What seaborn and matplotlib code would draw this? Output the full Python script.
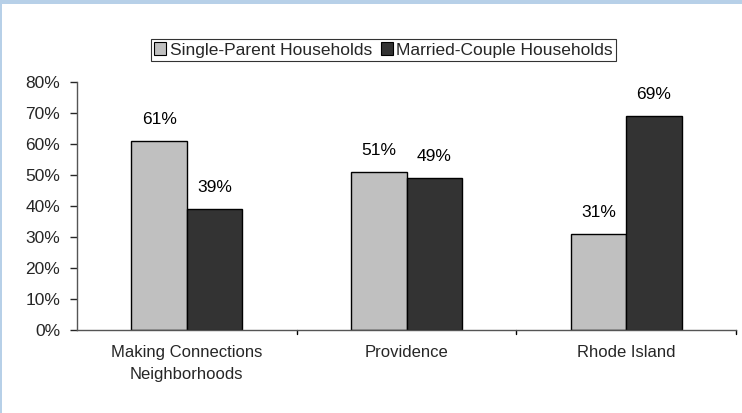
import matplotlib
matplotlib.use("Agg")
import matplotlib.pyplot as plt
from matplotlib.patches import Rectangle
import pandas as pd
import seaborn as sns

# data
places = ["Making Connections\nNeighborhoods", "Providence", "Rhode Island"]
single_parent = [61, 51, 31]
married_couple = [39, 49, 69]
series = ["Single-Parent Households", "Married-Couple Households"]
colors = ["#C0C0C0", "#333333"]

df = pd.DataFrame({
    "place": places * 2,
    "household": [series[0]] * 3 + [series[1]] * 3,
    "pct": single_parent + married_couple,
})

sns.set_style("white")
plt.rcParams["font.family"] = ["Liberation Sans", "DejaVu Sans"]

fig = plt.figure(figsize=(7.42, 4.13), dpi=100)
fig.patch.set_facecolor("white")
ax = fig.add_axes([0.1038, 0.201, 0.8882, 0.600])

sns.barplot(data=df, x="place", y="pct", hue="household", palette=colors,
            width=0.505, edgecolor="black", linewidth=1.0, saturation=1,
            ax=ax, legend=False)

for cont in ax.containers:
    ax.bar_label(cont, labels=[f"{v:.0f}%" for v in cont.datavalues],
                 padding=10, fontsize=12.5, color="black")

ax.set_ylim(0, 80)
ax.set_xlim(-0.5, 2.5)
ax.set_yticks(range(0, 81, 10))
ax.set_yticklabels([f"{v}%" for v in range(0, 81, 10)], fontsize=12.5)
ax.set_xticks([0, 1, 2])
ax.set_xticklabels(places, fontsize=12, linespacing=1.55)
ax.tick_params(axis="x", length=0, pad=11)
ax.tick_params(axis="y", length=5, width=1, direction="out", left=True, pad=7)
# category separators on x axis
for xb in [0.5, 1.5, 2.5]:
    ax.plot([xb, xb], [0, -1.2], color="black", lw=1, clip_on=False)
ax.set_xlabel("")
ax.set_ylabel("")
for s in ["top", "right"]:
    ax.spines[s].set_visible(False)
for s in ["left", "bottom"]:
    ax.spines[s].set_color("#555555")
    ax.spines[s].set_linewidth(1.0)

handles = [Rectangle((0, 0), 1, 1, facecolor=c, edgecolor="black", lw=0.8) for c in colors]
leg = fig.legend(handles, series, loc="center", bbox_to_anchor=(0.517, 0.879),
                 ncol=2, fontsize=12.5, frameon=True, fancybox=False,
                 handlelength=0.7, handleheight=0.7, handletextpad=0.2,
                 columnspacing=0.5, borderpad=0.2, borderaxespad=0)
leg.get_frame().set_edgecolor("black")
leg.get_frame().set_linewidth(0.8)

# light blue frame on top and left edge
fig.patches.append(Rectangle((0, 1 - 4 / 413), 1, 4 / 413, transform=fig.transFigure,
                             facecolor="#B7D0E8", edgecolor="none", zorder=0))
fig.patches.append(Rectangle((0, 0), 2 / 742, 1, transform=fig.transFigure,
                             facecolor="#B7D0E8", edgecolor="none", zorder=0))

fig.savefig("out.png", dpi=100)
